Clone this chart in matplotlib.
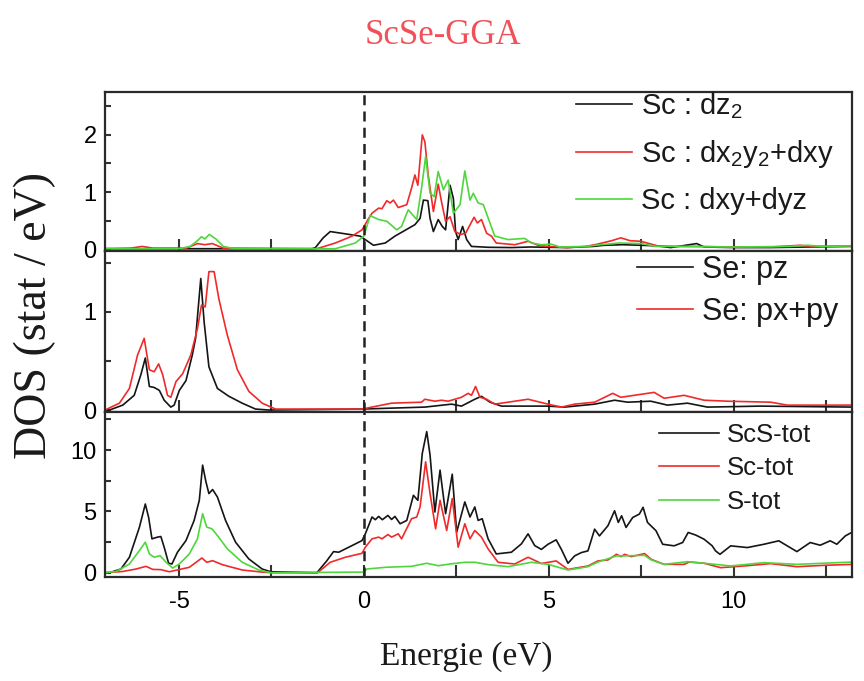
import matplotlib
matplotlib.use("Agg")
import matplotlib.pyplot as plt
from matplotlib.ticker import MultipleLocator

# ---------------- data (energy eV, DOS) ----------------
sc_dz2 = [(-7, 0.01), (-1.4, 0.01), (-1.31, 0.03), (-1.1, 0.2), (-0.91, 0.31), (-0.5, 0.27), (-0.1, 0.23),
          (0.26, 0.07), (0.58, 0.11), (0.84, 0.23), (1.38, 0.43), (1.52, 0.54), (1.61, 0.86), (1.73, 0.85),
          (1.79, 0.54), (1.88, 0.31), (2.01, 0.52), (2.12, 0.40), (2.21, 0.34), (2.33, 1.12), (2.42, 0.89),
          (2.48, 0.31), (2.55, 0.17), (2.67, 0.40), (2.78, 0.17), (2.91, 0.05), (3.36, 0.035), (4.0, 0.03),
          (4.5, 0.04), (5.5, 0.03), (6.2, 0.05), (6.5, 0.07), (7.0, 0.08), (7.5, 0.07), (7.9, 0.06),
          (8.3, 0.03), (8.8, 0.08), (9.0, 0.1), (9.2, 0.04), (10, 0.03), (11, 0.03), (12, 0.04), (13.2, 0.05)]
sc_dx2y2 = [(-7, 0.01), (-6.3, 0.02), (-6.0, 0.05), (-5.7, 0.02), (-4.8, 0.02), (-4.5, 0.1), (-4.3, 0.08),
            (-4.1, 0.1), (-3.8, 0.02), (-1.3, 0.01), (-1.22, 0.02), (-0.77, 0.11), (-0.32, 0.23), (-0.05, 0.34),
            (0.13, 0.54), (0.22, 0.63), (0.40, 0.72), (0.49, 0.71), (0.62, 0.85), (0.71, 0.81), (0.80, 0.86),
            (0.93, 0.73), (1.16, 0.78), (1.29, 1.07), (1.38, 1.30), (1.46, 1.12), (1.58, 2.0), (1.65, 1.88),
            (1.74, 1.30), (1.88, 0.66), (2.01, 1.14), (2.10, 0.83), (2.21, 0.49), (2.33, 0.57), (2.46, 0.31),
            (2.62, 0.26), (2.75, 0.28), (2.98, 0.56), (3.07, 0.46), (3.18, 0.52), (3.32, 0.28), (3.45, 0.23),
            (3.58, 0.11), (4.08, 0.08), (4.44, 0.14), (4.71, 0.07), (5.0, 0.05), (5.5, 0.03), (6.0, 0.05),
            (6.32, 0.09), (6.7, 0.15), (6.95, 0.20), (7.2, 0.15), (7.49, 0.14), (7.94, 0.06), (8.5, 0.05),
            (9.0, 0.05), (10, 0.04), (11, 0.04), (11.8, 0.07), (12.1, 0.05), (13.2, 0.06)]
sc_dxy = [(-7, 0.01), (-5.0, 0.01), (-4.7, 0.05), (-4.5, 0.15), (-4.39, 0.22), (-4.3, 0.18), (-4.18, 0.26),
          (-4.0, 0.18), (-3.8, 0.05), (-3.5, 0.01), (-0.77, 0.01), (-0.23, 0.11), (0, 0.23), (0.17, 0.59),
          (0.40, 0.52), (0.62, 0.49), (0.89, 0.34), (1.02, 0.40), (1.20, 0.69), (1.43, 0.52), (1.56, 1.07),
          (1.67, 1.62), (1.79, 0.98), (1.90, 0.92), (2.01, 1.36), (2.15, 1.04), (2.28, 1.21), (2.42, 0.63),
          (2.60, 0.78), (2.73, 1.37), (2.87, 0.86), (2.96, 0.98), (3.09, 0.81), (3.23, 0.78), (3.41, 0.46),
          (3.54, 0.23), (3.90, 0.17), (4.35, 0.19), (4.53, 0.11), (4.80, 0.08), (5.07, 0.09), (5.3, 0.04),
          (6.0, 0.05), (6.4, 0.08), (6.9, 0.11), (7.5, 0.10), (7.9, 0.05), (8.5, 0.05), (10, 0.04),
          (11.5, 0.05), (12.0, 0.07), (12.4, 0.05), (13.2, 0.06)]

se_pz = [(-7, 0), (-6.88, 0), (-6.52, 0.05), (-6.21, 0.15), (-6.03, 0.36), (-5.91, 0.53), (-5.80, 0.24),
         (-5.67, 0.23), (-5.53, 0.20), (-5.40, 0.10), (-5.22, 0.03), (-5.13, 0.05), (-4.99, 0.20), (-4.81, 0.30),
         (-4.64, 0.56), (-4.55, 0.73), (-4.41, 1.34), (-4.32, 0.90), (-4.19, 0.44), (-3.96, 0.22), (-3.65, 0.14),
         (-3.29, 0.07), (-2.93, 0.01), (-2.57, 0), (-0.05, 0.01), (1.65, 0.03), (2.37, 0.06), (2.64, 0.04),
         (3.0, 0.11), (3.18, 0.14), (3.41, 0.08), (3.72, 0.04), (4.98, 0.04), (5.43, 0.03), (6.24, 0.06),
         (6.78, 0.10), (7.13, 0.08), (7.76, 0.09), (8.21, 0.05), (8.75, 0.07), (9.29, 0.03), (10.72, 0.04),
         (13.2, 0.03)]
se_pxpy = [(-7, 0), (-6.61, 0.07), (-6.34, 0.22), (-6.12, 0.56), (-5.94, 0.73), (-5.80, 0.41), (-5.67, 0.39),
           (-5.55, 0.47), (-5.44, 0.36), (-5.31, 0.15), (-5.22, 0.13), (-5.08, 0.29), (-4.90, 0.37),
           (-4.68, 0.56), (-4.50, 0.83), (-4.39, 1.07), (-4.29, 1.05), (-4.19, 1.41), (-4.05, 1.41),
           (-3.92, 1.13), (-3.69, 0.76), (-3.42, 0.41), (-3.11, 0.19), (-2.75, 0.07), (-2.39, 0.01),
           (-0.05, 0.01), (0.75, 0.07), (1.56, 0.08), (1.65, 0.11), (1.92, 0.09), (2.10, 0.10), (2.28, 0.09),
           (2.64, 0.13), (2.82, 0.17), (2.91, 0.15), (3.02, 0.24), (3.14, 0.13), (3.32, 0.11), (3.54, 0.06),
           (4.44, 0.11), (4.98, 0.06), (5.34, 0.03), (5.70, 0.06), (6.24, 0.08), (6.73, 0.17), (6.95, 0.13),
           (7.31, 0.15), (7.85, 0.18), (8.12, 0.12), (8.66, 0.15), (9.2, 0.10), (9.83, 0.09), (11.0, 0.08),
           (11.45, 0.05), (13.2, 0.05)]

scs_tot = [(-7, 0), (-6.88, 0), (-6.57, 0.3), (-6.34, 1.26), (-6.07, 3.7), (-5.91, 5.6), (-5.82, 4.5),
           (-5.73, 2.76), (-5.58, 2.9), (-5.49, 2.95), (-5.40, 2.08), (-5.28, 0.77), (-5.19, 0.71), (-5.04, 1.67),
           (-4.81, 2.62), (-4.59, 4.26), (-4.45, 5.9), (-4.36, 8.77), (-4.27, 7.4), (-4.19, 6.45), (-4.09, 6.78),
           (-3.96, 6.17), (-3.74, 4.26), (-3.47, 2.49), (-3.11, 1.12), (-2.75, 0.3), (-2.52, 0.08), (-1.3, 0),
           (-1.27, 0), (-1.0, 0.98), (-0.82, 1.72), (-0.68, 1.67), (-0.32, 2.21), (-0.05, 2.62), (0.04, 3.17),
           (0.22, 4.54), (0.31, 4.32), (0.40, 4.59), (0.50, 4.32), (0.65, 4.67), (0.75, 4.34), (0.84, 4.59),
           (0.98, 3.99), (1.16, 4.26), (1.34, 6.31), (1.46, 5.9), (1.58, 9.73), (1.70, 11.5), (1.79, 9.59),
           (1.92, 4.95), (2.06, 8.36), (2.21, 4.81), (2.39, 8.03), (2.51, 3.31), (2.73, 5.77), (2.87, 4.54),
           (3.0, 5.36), (3.09, 4.26), (3.2, 4.4), (3.36, 2.76), (3.58, 1.53), (3.99, 1.67), (4.26, 2.35),
           (4.44, 3.17), (4.62, 2.21), (4.80, 1.9), (4.98, 2.32), (5.2, 2.68), (5.34, 1.91), (5.52, 0.77),
           (5.70, 1.37), (5.88, 1.64), (6.06, 1.78), (6.24, 3.55), (6.37, 3.0), (6.6, 3.83), (6.78, 5.05),
           (6.88, 4.1), (6.97, 4.64), (7.09, 3.69), (7.27, 4.5), (7.45, 4.78), (7.55, 5.33), (7.67, 4.1),
           (7.90, 3.42), (8.08, 2.32), (8.39, 2.19), (8.62, 2.46), (8.77, 3.28), (8.98, 3.06), (9.2, 2.73),
           (9.42, 2.19), (9.51, 1.78), (9.63, 1.5), (9.92, 2.19), (10.37, 2.05), (10.82, 2.32), (11.22, 2.6),
           (11.71, 1.72), (12.07, 2.46), (12.34, 2.24), (12.61, 2.6), (12.79, 2.32), (13.02, 3.0), (13.2, 3.3)]
sc_tot = [(-7, 0), (-6.52, 0.1), (-6.16, 0.3), (-5.89, 0.52), (-5.71, 0.27), (-5.49, 0.25), (-5.26, 0.08),
          (-4.72, 0.44), (-4.38, 1.2), (-4.25, 0.85), (-4.09, 0.98), (-3.83, 0.66), (-3.29, 0.22), (-2.75, 0.05),
          (-2.5, 0), (-1.25, 0), (-0.91, 0.85), (-0.5, 1.26), (-0.05, 1.58), (0.04, 2.08), (0.22, 2.76),
          (0.40, 2.9), (0.49, 2.76), (0.65, 3.11), (0.75, 2.9), (0.93, 3.17), (1.02, 2.76), (1.29, 4.4),
          (1.43, 4.54), (1.52, 5.36), (1.67, 9.04), (1.79, 6.45), (1.94, 3.58), (2.06, 5.9), (2.24, 3.44),
          (2.39, 6.04), (2.55, 2.08), (2.73, 3.99), (2.87, 2.76), (3.0, 3.44), (3.18, 2.9), (3.36, 1.94),
          (3.63, 0.85), (4.08, 0.71), (4.44, 1.26), (4.80, 0.75), (5.2, 0.96), (5.52, 0.27), (6.06, 0.55),
          (6.33, 0.96), (6.6, 1.04), (6.83, 1.5), (6.96, 1.31), (7.05, 1.5), (7.23, 1.31), (7.59, 1.56),
          (7.77, 1.09), (8.12, 0.68), (8.66, 0.68), (8.8, 0.87), (9.2, 0.77), (9.65, 0.41), (10.28, 0.55),
          (11.0, 0.74), (11.71, 0.49), (12.43, 0.6), (13.2, 0.68)]
s_tot = [(-7, 0), (-6.70, 0.1), (-6.34, 0.71), (-6.07, 1.8), (-5.91, 2.49), (-5.80, 1.53), (-5.67, 1.26),
         (-5.51, 1.39), (-5.35, 0.85), (-5.17, 0.38), (-4.99, 0.71), (-4.72, 1.53), (-4.50, 2.76), (-4.36, 4.81),
         (-4.25, 3.72), (-4.11, 3.58), (-3.96, 3.03), (-3.69, 1.94), (-3.29, 0.85), (-2.84, 0.22), (-2.52, 0),
         (0.0, 0.05), (0.08, 0.3), (0.58, 0.44), (1.29, 0.52), (1.70, 0.77), (2.01, 0.57), (2.33, 0.71),
         (2.73, 0.85), (3.0, 0.85), (3.36, 0.66), (3.90, 0.49), (4.53, 0.85), (4.98, 0.68), (5.52, 0.22),
         (6.06, 0.49), (6.33, 0.87), (6.83, 1.37), (7.05, 1.37), (7.59, 1.42), (7.77, 1.04), (8.12, 0.68),
         (8.75, 0.9), (9.2, 0.77), (9.92, 0.55), (10.82, 0.82), (11.71, 0.68), (13.2, 0.87)]

title = "ScSe-GGA"
xlabel = "Energie (eV)"
ylabel = "DOS (stat / eV)"
x_ticks = [-5, 0, 5, 10]

BLACK, RED, GREEN = "#151515", "#f02a2a", "#4fd63c"

panels = [
    dict(series=[(sc_dz2, BLACK, "Sc : dz$_\\mathregular{2}$"),
                 (sc_dx2y2, RED, "Sc : dx$_\\mathregular{2}$y$_\\mathregular{2}$+dxy"),
                 (sc_dxy, GREEN, "Sc : dxy+dyz")],
         ylim=(-0.03, 2.75), yt=[0, 1, 2], minor=0.5,
         leg=(0.626, 1.03), lsp=0.58, fs=21, hl=1.95),
    dict(series=[(se_pz, BLACK, "Se: pz"), (se_pxpy, RED, "Se: px+py")],
         ylim=(-0.02, 1.62), yt=[0, 1], minor=0.5,
         leg=(0.708, 0.993), lsp=0.38, fs=22, hl=1.83),
    dict(series=[(scs_tot, BLACK, "ScS-tot"), (sc_tot, RED, "Sc-tot"), (s_tot, GREEN, "S-tot")],
         ylim=(-0.35, 13.1), yt=[0, 5, 10], minor=2.5,
         leg=(0.738, 0.95), lsp=0.37, fs=18.5, hl=2.33),
]

fig = plt.figure(figsize=(8.64, 6.81), dpi=100)
gs = fig.add_gridspec(3, 1, left=105 / 864, right=852 / 864, top=1 - 92 / 681, bottom=1 - 577 / 681,
                      hspace=0, height_ratios=[159, 161, 165])
sans = "Liberation Sans"
serif = "Liberation Serif"

for i, p in enumerate(panels):
    ax = fig.add_subplot(gs[i])
    for pts, col, lab in p["series"]:
        xs = [a for a, b in pts]
        ys = [b for a, b in pts]
        ax.plot(xs, ys, color=col, lw=1.2, label=lab)
    ax.axvline(0, color="#222222", lw=1.8, ls=(0, (4, 2.5)))
    ax.set_xlim(-7, 13.2)
    ax.set_ylim(*p["ylim"])
    ax.xaxis.set_major_locator(MultipleLocator(5))
    ax.xaxis.set_minor_locator(MultipleLocator(2.5))
    ax.yaxis.set_minor_locator(MultipleLocator(p["minor"]))
    ax.tick_params(axis="both", which="both", direction="in", width=1.5, color="#333333")
    ax.tick_params(axis="x", which="both", length=9, top=False)
    ax.tick_params(axis="y", which="both", length=4, pad=6)
    ax.tick_params(axis="x", pad=10)
    ax.set_yticks(p["yt"])
    ax.set_yticklabels([str(v) for v in p["yt"]], fontfamily=sans, fontsize=17)
    if i < 2:
        ax.tick_params(axis="x", labelbottom=False)
    else:
        ax.set_xticks(x_ticks)
        ax.set_xticklabels([str(v) for v in x_ticks], fontfamily=sans, fontsize=17)
    for s in ax.spines.values():
        s.set_linewidth(1.6)
        s.set_color("#2a2a2a")
    leg = ax.legend(loc="upper left", bbox_to_anchor=p["leg"], frameon=False,
                    prop={"family": sans, "size": p["fs"]}, handlelength=p["hl"], handletextpad=0.3,
                    labelspacing=p["lsp"], borderaxespad=0, borderpad=0.1)
    for t in leg.get_texts():
        t.set_color("#1a1a1a")

fig.text(443 / 864, 1 - 35 / 681, title, ha="center", va="center", color="#f05058",
         fontfamily=serif, fontsize=25)
fig.text(466 / 864, 1 - 657 / 681, xlabel, ha="center", va="center", color="#1a1a1a",
         fontfamily=serif, fontsize=24)
fig.text(35 / 864, 1 - 315 / 681, ylabel, ha="center", va="center", rotation=90, color="#1a1a1a",
         fontfamily=serif, fontsize=33)

fig.savefig("out.png", dpi=100)
